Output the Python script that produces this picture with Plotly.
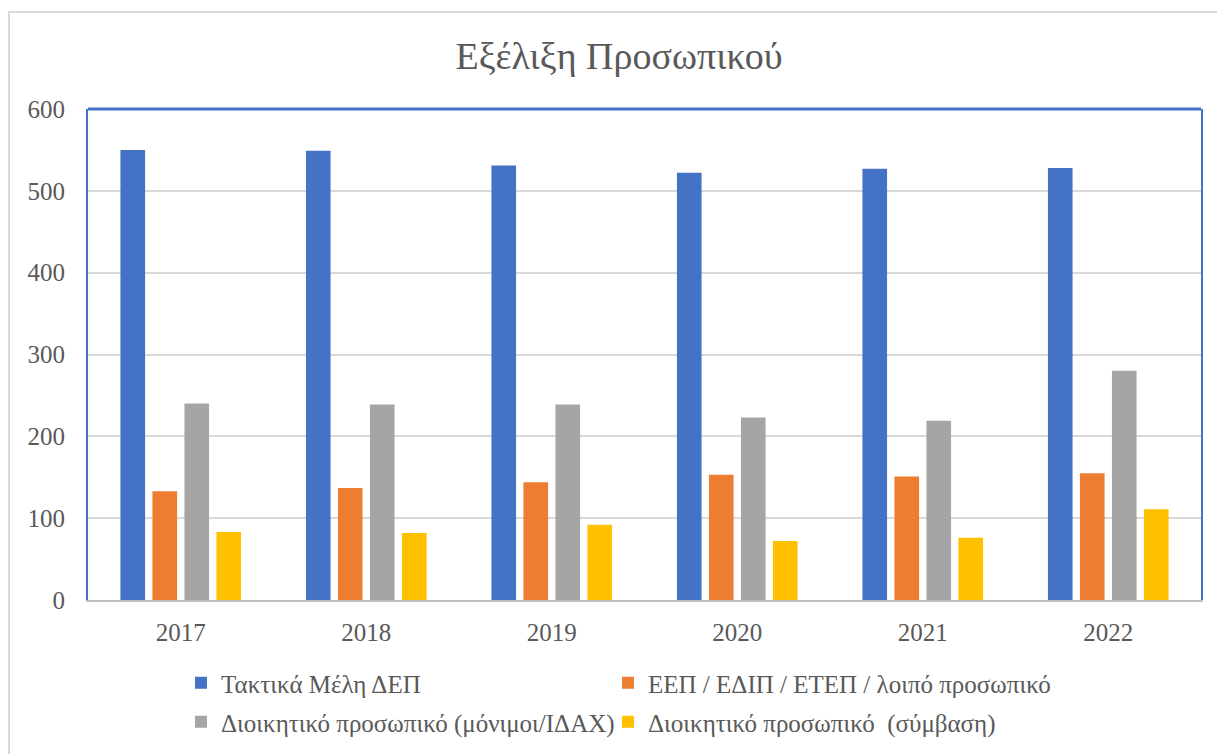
import plotly.graph_objects as go

years = ["2017", "2018", "2019", "2020", "2021", "2022"]
series_names = [
    "Τακτικά Μέλη ΔΕΠ",
    "ΕΕΠ / ΕΔΙΠ / ΕΤΕΠ / λοιπό προσωπικό",
    "Διοικητικό προσωπικό (μόνιμοι/ΙΔΑΧ)",
    "Διοικητικό προσωπικό  (σύμβαση)",
]
taktika = [550, 549, 531, 522, 527, 528]
eep = [133, 137, 144, 153, 151, 155]
dioik_monimoi = [240, 239, 239, 223, 219, 280]
dioik_symvasi = [83, 82, 92, 72, 76, 111]
series_values = [taktika, eep, dioik_monimoi, dioik_symvasi]
colors = ["#4472C4", "#ED7D31", "#A5A5A5", "#FFC000"]
legend_ids = ["legend", "legend2", "legend3", "legend4"]

TXT = "#595959"
FONT = "Liberation Serif"

fig = go.Figure()
for name, vals, col, lg in zip(series_names, series_values, colors, legend_ids):
    fig.add_trace(go.Bar(x=years, y=vals, name=name, marker=dict(color=col, line=dict(width=0)),
                         legend=lg))

# page body has an 8px margin; work in page pixel coordinates
OFF = 8
W, H = 1225 - OFF, 754 - OFF
L, T = 88 - OFF, 109 - OFF
R = W - (1201 - OFF)
B = H - (600 - OFF)
pw, ph = W - L - R, H - T - B

def px_x(x):
    return (x - OFF - L) / pw

def px_y(y):
    return (H - B - (y - OFF)) / ph

def cx(x):
    return (x - OFF) / W

def cy(y):
    return 1 - (y - OFF) / H

legend_common = dict(orientation="h", xref="container", yref="container",
                     font=dict(family=FONT, size=25, color=TXT), bgcolor="rgba(0,0,0,0)",
                     itemwidth=30, xanchor="left", yanchor="middle")

fig.update_layout(
    width=W, height=H,
    margin=dict(l=L, r=R, t=T, b=B, autoexpand=False),
    paper_bgcolor="white", plot_bgcolor="white",
    barmode="group", bargap=0.31, bargroupgap=0.23,
    title=dict(text="Εξέλιξη Προσωπικού", font=dict(family=FONT, size=38, color=TXT),
               x=cx(619), xanchor="center", y=cy(56), yanchor="middle",
               xref="container", yref="container"),
    legend=dict(x=cx(181), y=cy(683), **legend_common),
    legend2=dict(x=cx(608), y=cy(683), **legend_common),
    legend3=dict(x=cx(181), y=cy(722), **legend_common),
    legend4=dict(x=cx(608), y=cy(722), **legend_common),
    showlegend=True,
    xaxis=dict(showgrid=False, showline=True, linecolor="#BFBFBF", linewidth=2, ticks="",
               tickfont=dict(family=FONT, size=25, color=TXT), ticklabelstandoff=9, fixedrange=True),
    yaxis=dict(range=[0, 600], dtick=100, showgrid=True, gridcolor="#D9D9D9", gridwidth=2,
               showline=True, linecolor="#4472C4", linewidth=2, mirror=True, ticks="", zeroline=False,
               tickfont=dict(family=FONT, size=25, color=TXT), ticklabelstandoff=16),
    shapes=[
        dict(type="line", xref="paper", yref="paper", x0=0, x1=1, y0=1, y1=1,
             line=dict(color="#4472C4", width=3)),
        dict(type="rect", xref="paper", yref="paper", x0=px_x(9), x1=px_x(1260), y0=px_y(790), y1=px_y(12),
             line=dict(color="#D9D9D9", width=2), fillcolor="rgba(0,0,0,0)", layer="below"),
    ],
)

fig.write_html("out.html")
